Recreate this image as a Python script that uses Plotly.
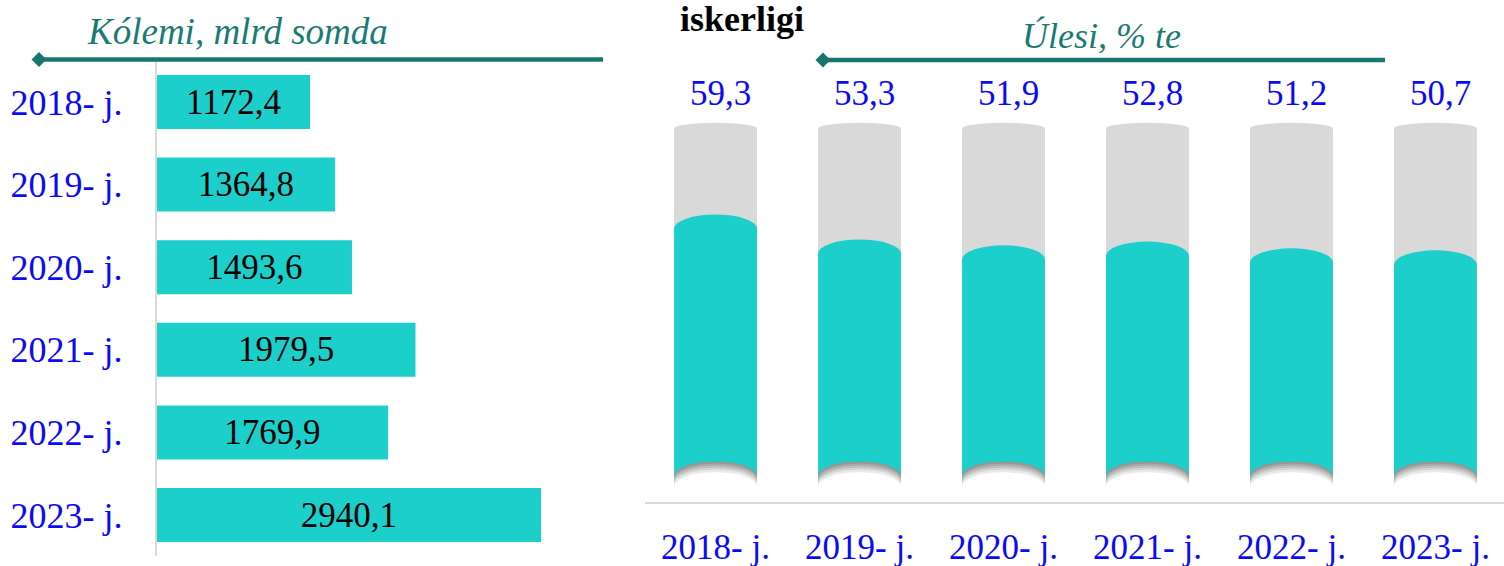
import plotly.graph_objects as go

# ---------------- data ----------------
years = ["2018- j.", "2019- j.", "2020- j.", "2021- j.", "2022- j.", "2023- j."]
volume_bln_som = [1172.4, 1364.8, 1493.6, 1979.5, 1769.9, 2940.1]
volume_labels = ["1172,4", "1364,8", "1493,6", "1979,5", "1769,9", "2940,1"]
share_pct = [59.3, 53.3, 51.9, 52.8, 51.2, 50.7]
share_labels = ["59,3", "53,3", "51,9", "52,8", "51,2", "50,7"]
left_title = "Kólemi, mlrd somda"
right_title = "Úlesi, % te"
top_fragment = "iskerligi"

# ---------------- styles ----------------
W, H = 1504, 566
TEAL = "#1DCFCA"
DARK_TEAL = "#187670"
TITLE_TEAL = "#1B7A74"
BLUE = "#0A0AF5"
GREY = "#D9D9D9"
FONT = "Liberation Serif"
TRACK = 83.4          # height of grey cylinder track
BAR_W = 0.576         # cylinder width (category units)
TOP_SEMI = 3.43       # teal top ellipse half height (y units)
TRACK_SEMI = 1.34     # grey top ellipse half height
BOT_SEMI = 3.5        # bottom concave half height


def px(x):
    return x / W


def py(y):
    return 1 - y / H


fig = go.Figure()

# ---------------- left: horizontal bars ----------------
fig.add_trace(go.Bar(
    x=volume_bln_som, y=years, orientation="h",
    marker=dict(color=TEAL, line=dict(width=0)),
    text=volume_labels, textposition="inside", insidetextanchor="middle",
    textfont=dict(family=FONT, size=35, color="black"),
    constraintext="none", cliponaxis=False,
    xaxis="x", yaxis="y", hoverinfo="skip", showlegend=False,
))

# ---------------- right: cylinders ----------------
fig.add_trace(go.Bar(
    x=years, y=[TRACK] * len(years), width=BAR_W,
    marker=dict(color=GREY, line=dict(width=0)),
    xaxis="x2", yaxis="y2", hoverinfo="skip", showlegend=False,
))
fig.add_trace(go.Bar(
    x=years, y=share_pct, width=BAR_W,
    marker=dict(color=TEAL, line=dict(width=0)),
    xaxis="x2", yaxis="y2", hoverinfo="skip", showlegend=False,
))

shapes = []
for i, v in enumerate(share_pct):
    x0, x1 = i - BAR_W / 2, i + BAR_W / 2
    # grey track top
    shapes.append(dict(type="circle", xref="x2", yref="y2", x0=x0, x1=x1,
                       y0=TRACK - TRACK_SEMI, y1=TRACK + TRACK_SEMI,
                       fillcolor=GREY, line=dict(width=0), layer="above"))
    # teal top
    shapes.append(dict(type="circle", xref="x2", yref="y2", x0=x0, x1=x1,
                       y0=v - TOP_SEMI, y1=v + TOP_SEMI,
                       fillcolor=TEAL, line=dict(width=0), layer="above"))
    # bottom concave with fading shadow
    for off, col in [(0.0, "#969696"), (-0.5, "#a9a9a9"), (-1.0, "#bfbfbf"),
                     (-1.5, "#d5d5d5"), (-2.0, "#e9e9e9"), (-2.6, "#ffffff")]:
        shapes.append(dict(type="circle", xref="x2", yref="y2", x0=x0, x1=x1,
                           y0=off - BOT_SEMI, y1=off + BOT_SEMI,
                           fillcolor=col, line=dict(width=0), layer="above"))


# header lines with diamond ends
def header_line(xa, xb, y):
    d = 7.5
    return [
        dict(type="line", xref="paper", yref="paper", x0=px(xa), x1=px(xb),
             y0=py(y), y1=py(y), line=dict(color=DARK_TEAL, width=4.5)),
        dict(type="path", xref="paper", yref="paper",
             path=(f"M {px(xa - d)},{py(y)} L {px(xa)},{py(y - d)} "
                   f"L {px(xa + d)},{py(y)} L {px(xa)},{py(y + d)} Z"),
             fillcolor=DARK_TEAL, line=dict(width=0)),
    ]


shapes += header_line(39, 603, 59.5)
shapes += header_line(823, 1385, 60)

annotations = [
    dict(text=f"<i>{left_title}</i>", xref="paper", yref="paper", x=px(237), y=py(32),
         showarrow=False, xanchor="center", yanchor="middle",
         font=dict(family=FONT, size=37, color=TITLE_TEAL)),
    dict(text=f"<i>{right_title}</i>", xref="paper", yref="paper", x=px(1101), y=py(36),
         showarrow=False, xanchor="center", yanchor="middle",
         font=dict(family=FONT, size=36, color=TITLE_TEAL)),
    dict(text=f"<b>{top_fragment}</b>", xref="paper", yref="paper", x=px(742), y=py(19),
         showarrow=False, xanchor="center", yanchor="middle",
         font=dict(family=FONT, size=36, color="black")),
]

for i, lab in enumerate(share_labels):
    annotations.append(dict(text=lab, xref="x2", yref="paper", x=i, y=py(93),
                            xshift=5, showarrow=False, xanchor="center", yanchor="middle",
                            font=dict(family=FONT, size=35, color=BLUE)))

LEFT_ZERO = 156.8
LEFT_SCALE = 0.13068  # px per unit
LEFT_END = 600

fig.update_layout(
    width=W, height=H, autosize=False,
    margin=dict(l=0, r=0, t=0, b=0, pad=0, autoexpand=False),
    paper_bgcolor="white", plot_bgcolor="rgba(0,0,0,0)",
    barmode="overlay", bargap=0.346,
    xaxis=dict(domain=[px(LEFT_ZERO), px(LEFT_END)],
               range=[0, (LEFT_END - LEFT_ZERO) / LEFT_SCALE],
               visible=False, fixedrange=True, automargin=False),
    yaxis=dict(domain=[py(556.3), py(60.7)], autorange="reversed",
               type="category", showline=True, linecolor=GREY, linewidth=2,
               showgrid=False, zeroline=False, ticks="",
               ticklabelstandoff=25, automargin=False,
               tickfont=dict(family=FONT, size=36, color=BLUE), fixedrange=True),
    xaxis2=dict(domain=[px(645), 1], range=[-0.49, 5.476], anchor="y2",
                type="category", showline=True, linecolor=GREY, linewidth=2,
                showgrid=False, zeroline=False, ticks="",
                ticklabelstandoff=13, automargin=False,
                tickfont=dict(family=FONT, size=35, color=BLUE), fixedrange=True),
    yaxis2=dict(domain=[py(501.7), 1], range=[-6.17, 114.2], anchor="x2",
                visible=False, fixedrange=True, automargin=False),
    shapes=shapes, annotations=annotations,
)

fig.write_html(
    "out.html",
    config={"displayModeBar": False},
    post_script="document.body.style.margin='0px';document.body.style.overflow='hidden';",
)
